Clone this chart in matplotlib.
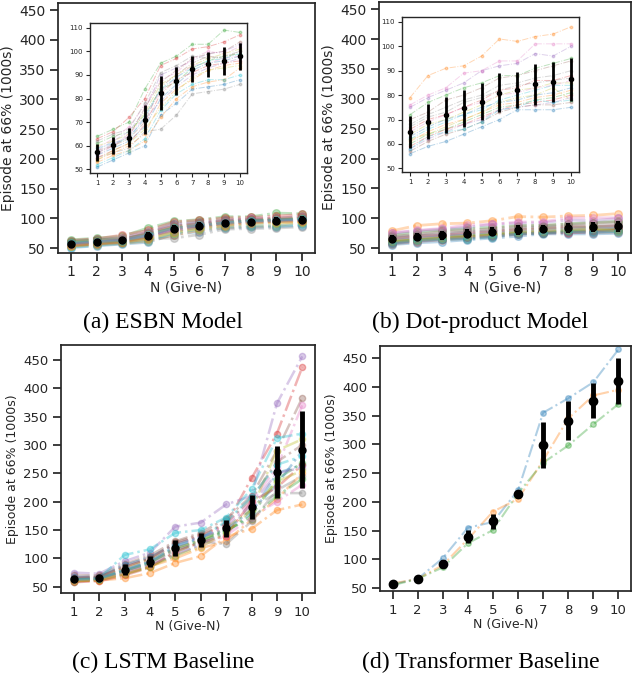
import matplotlib
matplotlib.use('Agg')
import matplotlib.pyplot as plt
import numpy as np

plt.rcParams['font.family'] = 'DejaVu Sans'
plt.rcParams['text.color'] = '#262626'
plt.rcParams['axes.labelcolor'] = '#262626'
plt.rcParams['xtick.color'] = '#262626'
plt.rcParams['ytick.color'] = '#262626'

N_VALUES = [1, 2, 3, 4, 5, 6, 7, 8, 9, 10]

# ESBN runs (episodes at 66%, in 1000s)
esbn_runs = [
    [51, 54, 57, 60, 73, 78, 84, 85, 86, 88],
    [53, 56, 58, 62, 72, 80, 85, 87, 88, 93],
    [64, 67, 70, 84, 95, 98, 103, 103, 109, 108],
    [63, 66, 72, 80, 94, 97, 101, 102, 104, 107],
    [58, 62, 66, 75, 90, 93, 96, 99, 100, 103],
    [57, 60, 63, 70, 85, 90, 95, 98, 97, 100],
    [59, 63, 68, 77, 88, 91, 97, 100, 99, 102],
    [55, 57, 59, 66, 67, 73, 82, 83, 84, 86],
    [60, 62, 65, 74, 86, 90, 94, 97, 99, 101],
    [52, 55, 58, 63, 75, 82, 86, 88, 88, 90],
    [56, 59, 62, 68, 80, 86, 92, 95, 96, 98],
    [54, 57, 60, 65, 78, 84, 88, 92, 94, 95],
    [61, 64, 66, 73, 84, 87, 93, 96, 98, 99],
    [55, 58, 61, 69, 82, 88, 91, 94, 95, 96],
    [57, 61, 64, 71, 79, 85, 90, 93, 95, 97],
    [58, 60, 64, 76, 87, 92, 97, 99, 100, 104],
    [56, 60, 65, 72, 83, 89, 94, 95, 97, 98],
    [62, 65, 67, 78, 91, 94, 98, 97, 98, 100],
    [54, 58, 61, 67, 76, 83, 89, 92, 93, 94],
    [59, 61, 63, 72, 84, 89, 93, 96, 97, 99],
]

# Dot-product runs
dot_runs = [
    [56, 59, 61, 64, 67, 70, 74, 74, 74, 75],
    [79, 88, 91, 92, 96, 103, 102, 104, 105, 108],
    [72, 77, 80, 83, 85, 88, 88, 91, 93, 95],
    [66, 70, 72, 75, 78, 82, 83, 86, 86, 88],
    [75, 79, 82, 85, 90, 92, 93, 97, 96, 100],
    [70, 73, 78, 80, 83, 87, 88, 90, 92, 94],
    [76, 80, 83, 89, 90, 94, 94, 101, 101, 101],
    [68, 72, 75, 78, 80, 84, 85, 87, 88, 90],
    [64, 68, 70, 73, 76, 80, 82, 83, 85, 85],
    [62, 66, 69, 72, 74, 78, 80, 82, 84, 84],
    [63, 67, 70, 72, 75, 77, 78, 80, 81, 83],
    [61, 65, 68, 70, 73, 76, 77, 79, 80, 82],
    [60, 64, 66, 69, 72, 75, 76, 78, 79, 81],
    [59, 63, 66, 68, 71, 74, 76, 77, 78, 80],
    [58, 62, 65, 68, 70, 74, 75, 76, 77, 79],
    [57, 61, 64, 66, 69, 73, 75, 76, 76, 77],
    [65, 69, 72, 75, 77, 80, 81, 83, 84, 86],
    [67, 71, 73, 77, 79, 82, 84, 85, 86, 87],
    [62, 64, 67, 70, 73, 77, 79, 80, 83, 78],
    [58, 63, 65, 66, 69, 74, 75, 78, 77, 78],
]

# LSTM runs
lstm_runs = [
    [61, 63, 75, 88, 105, 125, 145, 180, 250, 265],
    [60, 61, 65, 74, 92, 104, 138, 152, 185, 195],
    [59, 62, 72, 85, 110, 130, 148, 175, 240, 268],
    [66, 68, 85, 100, 125, 140, 160, 241, 320, 437],
    [75, 73, 95, 110, 156, 163, 195, 210, 373, 456],
    [70, 70, 90, 105, 130, 145, 170, 210, 290, 383],
    [65, 66, 80, 95, 120, 135, 160, 200, 260, 370],
    [63, 64, 78, 90, 115, 128, 150, 190, 215, 215],
    [64, 66, 82, 98, 118, 132, 155, 185, 290, 310],
    [62, 65, 106, 116, 145, 150, 172, 222, 312, 320],
    [67, 68, 88, 102, 125, 138, 150, 185, 230, 290],
    [60, 62, 73, 86, 100, 118, 130, 168, 205, 250],
    [62, 64, 78, 92, 118, 132, 150, 170, 210, 240],
    [58, 60, 70, 84, 112, 128, 140, 200, 225, 265],
    [63, 65, 80, 95, 120, 137, 155, 195, 250, 260],
    [65, 67, 85, 100, 128, 142, 162, 205, 270, 300],
    [61, 63, 74, 88, 108, 122, 140, 172, 200, 230],
    [64, 65, 78, 93, 115, 130, 125, 165, 220, 245],
    [60, 62, 72, 85, 105, 120, 145, 185, 235, 255],
    [63, 64, 80, 94, 122, 135, 165, 208, 265, 280],
]

# Transformer runs
transformer_runs = [
    [57, 66, 102, 155, 165, 220, 355, 380, 408, 465],
    [58, 66, 90, 135, 183, 205, 272, 345, 385, 395],
    [55, 66, 86, 128, 151, 215, 268, 298, 335, 370],
]

captions = ['(a) ESBN Model', '(b) Dot-product Model',
            '(c) LSTM Baseline', '(d) Transformer Baseline']

W, H = 632, 674
fig = plt.figure(figsize=(W / 100, H / 100), dpi=100)


def px_axes(x0, y0, x1, y1):
    return fig.add_axes([x0 / W, 1 - y1 / H, (x1 - x0) / W, (y1 - y0) / H])


def draw_runs(ax, runs, lw, ms, err_lw, err_ms, alpha):
    for r in runs:
        ax.plot(N_VALUES, r, '-.', marker='o', lw=lw, ms=ms, alpha=alpha)
    arr = np.array(runs, dtype=float)
    ax.errorbar(N_VALUES, arr.mean(axis=0), yerr=arr.std(axis=0), fmt='o',
                color='black', ecolor='black', elinewidth=err_lw, ms=err_ms,
                capsize=0, zorder=10)


def style_main(ax, tick_fs, label_fs):
    for s in ax.spines.values():
        s.set_linewidth(1.25)
        s.set_color('#262626')
    ax.tick_params(labelsize=tick_fs, length=6, width=1.25, pad=3)
    ax.set_xticks(N_VALUES)
    ax.set_yticks(np.arange(50, 451, 50))
    ax.set_xlim(0.5, 10.5)
    ax.set_xlabel('N (Give-N)', fontsize=label_fs, labelpad=1)
    ax.set_ylabel('Episode at 66% (1000s)', fontsize=label_fs, labelpad=3)


def style_inset(ax):
    for s in ax.spines.values():
        s.set_linewidth(1.0)
        s.set_color('#262626')
    ax.tick_params(labelsize=5, length=3, width=0.8, pad=2)
    ax.set_xticks(N_VALUES)
    ax.set_yticks(np.arange(50, 111, 10))
    ax.set_xlim(0.55, 10.45)
    ax.set_ylim(48.5, 112)


# (a) ESBN
ax_a = px_axes(58, 3, 315, 253)
draw_runs(ax_a, esbn_runs, 2, 5.5, 3, 5, 0.3)
ax_a.set_ylim(42, 462)
style_main(ax_a, 10, 10)
ins_a = px_axes(90, 23, 247, 173)
draw_runs(ins_a, esbn_runs, 0.7, 1.8, 2, 3, 0.3)
style_inset(ins_a)

# (b) Dot-product
ax_b = px_axes(379, 2, 631, 253)
draw_runs(ax_b, dot_runs, 2, 5.5, 3, 5, 0.3)
ax_b.set_ylim(42, 462)
style_main(ax_b, 10, 10)
ins_b = px_axes(402, 17, 579, 172)
draw_runs(ins_b, dot_runs, 0.7, 1.8, 2, 3, 0.3)
style_inset(ins_b)

# (c) LSTM
ax_c = px_axes(61, 345, 315, 593)
draw_runs(ax_c, lstm_runs, 1.8, 4.5, 3.5, 5, 0.35)
ax_c.set_ylim(39, 476)
style_main(ax_c, 9.5, 9)

# (d) Transformer
ax_d = px_axes(380, 346, 631, 591)
draw_runs(ax_d, transformer_runs, 1.5, 4, 3.5, 6, 0.35)
ax_d.set_ylim(45, 471)
style_main(ax_d, 9.5, 9)

# captions under each panel
cap_pos = [(163, 322), (480, 322), (163, 662), (481, 662)]
for text, (cx, cy) in zip(captions, cap_pos):
    fig.text(cx / W, 1 - cy / H, text, ha='center', va='center',
             fontsize=17, family='Liberation Serif', color='black')

fig.savefig('out.png', dpi=100)
